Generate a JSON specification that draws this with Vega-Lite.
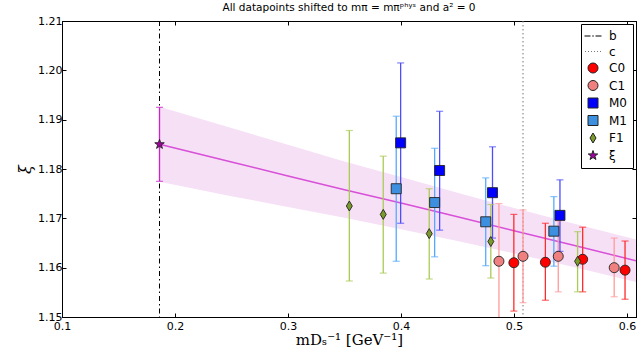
{
  "$schema": "https://vega.github.io/schema/vega-lite/v6.json",
  "width": 574,
  "height": 296,
  "autosize": {"type": "none"},
  "padding": {"left": 62, "top": 21, "right": 1, "bottom": 43},
  "title": {"text": "All datapoints shifted to mπ = mπᵖʰʸˢ and a² = 0", "font": "DejaVu Sans", "fontSize": 10.5, "fontWeight": "normal", "color": "black", "anchor": "middle", "offset": 2},
  "config": {
    "view": {"stroke": "black", "strokeWidth": 1},
    "axis": {"grid": false, "domainColor": "black", "tickColor": "black", "labelColor": "black", "labelFont": "DejaVu Sans", "labelFontSize": 11, "titleColor": "black", "titleFontWeight": "normal", "labelFlush": false},
    "legend": {"orient": "top-right", "offset": 3, "padding": 6, "fillColor": "white", "strokeColor": "black", "strokeWidth": 1, "cornerRadius": 0, "labelFont": "DejaVu Sans", "labelFontSize": 12, "labelColor": "black", "rowPadding": 3.5, "symbolStrokeWidth": 1, "labelOffset": 10}
  },
  "datasets": {
    "pts": [
      {"series": "C0", "x": 0.4999, "y": 1.1610, "lo": 1.1512, "hi": 1.1708},
      {"series": "C0", "x": 0.5278, "y": 1.1611, "lo": 1.1534, "hi": 1.1690},
      {"series": "C0", "x": 0.5608, "y": 1.1617, "lo": 1.1551, "hi": 1.1682},
      {"series": "C0", "x": 0.5983, "y": 1.1595, "lo": 1.1536, "hi": 1.1654},
      {"series": "C1", "x": 0.4867, "y": 1.1613, "lo": 1.1496, "hi": 1.1730},
      {"series": "C1", "x": 0.5080, "y": 1.1623, "lo": 1.1529, "hi": 1.1717},
      {"series": "C1", "x": 0.5392, "y": 1.1623, "lo": 1.1551, "hi": 1.1695},
      {"series": "C1", "x": 0.5887, "y": 1.1600, "lo": 1.1541, "hi": 1.1660},
      {"series": "M0", "x": 0.3997, "y": 1.1853, "lo": 1.1690, "hi": 1.2015},
      {"series": "M0", "x": 0.4342, "y": 1.1797, "lo": 1.1676, "hi": 1.1917},
      {"series": "M0", "x": 0.4810, "y": 1.1752, "lo": 1.1660, "hi": 1.1845},
      {"series": "M0", "x": 0.5407, "y": 1.1706, "lo": 1.1633, "hi": 1.1778},
      {"series": "M1", "x": 0.3958, "y": 1.1760, "lo": 1.1613, "hi": 1.1907},
      {"series": "M1", "x": 0.4298, "y": 1.1732, "lo": 1.1622, "hi": 1.1842},
      {"series": "M1", "x": 0.4750, "y": 1.1693, "lo": 1.1604, "hi": 1.1782},
      {"series": "M1", "x": 0.5353, "y": 1.1674, "lo": 1.1603, "hi": 1.1744},
      {"series": "F1", "x": 0.3543, "y": 1.1725, "lo": 1.1573, "hi": 1.1878},
      {"series": "F1", "x": 0.3843, "y": 1.1708, "lo": 1.1589, "hi": 1.1826},
      {"series": "F1", "x": 0.4250, "y": 1.1669, "lo": 1.1577, "hi": 1.1760},
      {"series": "F1", "x": 0.4795, "y": 1.1653, "lo": 1.1579, "hi": 1.1728},
      {"series": "F1", "x": 0.5563, "y": 1.1613, "lo": 1.1551, "hi": 1.1673},
      {"series": "ξ", "x": 0.1863, "y": 1.1850, "lo": 1.1775, "hi": 1.1925}
    ],
    "band": [
      {"x": 0.1863, "lo": 1.1774, "mid": 1.1850, "hi": 1.1926},
      {"x": 0.25, "lo": 1.1745, "mid": 1.1814, "hi": 1.1883},
      {"x": 0.3, "lo": 1.1723, "mid": 1.1786, "hi": 1.1849},
      {"x": 0.35, "lo": 1.1701, "mid": 1.1758, "hi": 1.1815},
      {"x": 0.4, "lo": 1.1678, "mid": 1.1731, "hi": 1.1784},
      {"x": 0.45, "lo": 1.1654, "mid": 1.1703, "hi": 1.1752},
      {"x": 0.5, "lo": 1.1629, "mid": 1.1675, "hi": 1.1721},
      {"x": 0.55, "lo": 1.1603, "mid": 1.1647, "hi": 1.1691},
      {"x": 0.608, "lo": 1.1571, "mid": 1.1614, "hi": 1.1657}
    ]
  },
  "layer": [
    {
      "data": {"name": "band"},
      "mark": {"type": "area", "fill": "#f6e0f6", "opacity": 1, "clip": true},
      "encoding": {
        "x": {"field": "x", "type": "quantitative", "scale": {"domain": [0.1, 0.608], "nice": false, "zero": false},
              "axis": {"orient": "bottom", "values": [0.1, 0.2, 0.3, 0.4, 0.5, 0.6], "format": ".1f", "tickSize": -4, "labelPadding": 7, "title": "mDₛ⁻¹ [GeV⁻¹]", "titleFont": "DejaVu Serif", "titleFontSize": 15, "titlePadding": 1}},
        "y": {"field": "lo", "type": "quantitative", "scale": {"domain": [1.15, 1.21], "nice": false, "zero": false},
              "axis": {"orient": "left", "values": [1.15, 1.16, 1.17, 1.18, 1.19, 1.2, 1.21], "format": ".2f", "tickSize": -4, "labelPadding": 4, "title": "ξ", "titleFont": "DejaVu Serif", "titleFontStyle": "italic", "titleFontSize": 16, "titlePadding": 4}},
        "y2": {"field": "hi"}
      }
    },
    {
      "data": {"name": "band"},
      "mark": {"type": "line", "color": "#d84fd8", "strokeWidth": 1.5, "clip": true},
      "encoding": {
        "x": {"field": "x", "type": "quantitative", "scale": {"domain": [0.1, 0.608], "nice": false, "zero": false},
              "axis": {"orient": "top", "values": [0.1, 0.2, 0.3, 0.4, 0.5, 0.6], "labels": false, "tickSize": -4, "title": null}},
        "y": {"field": "mid", "type": "quantitative", "scale": {"domain": [1.15, 1.21], "nice": false, "zero": false},
              "axis": {"orient": "right", "values": [1.15, 1.16, 1.17, 1.18, 1.19, 1.2, 1.21], "labels": false, "tickSize": -4, "title": null}}
      }
    },
    {
      "data": {"values": [{"x": 0.1863}]},
      "mark": {"type": "rule", "color": "black", "strokeWidth": 1, "strokeDash": [5, 3, 1.5, 3]},
      "encoding": {
        "x": {"field": "x", "type": "quantitative", "scale": {"domain": [0.1, 0.608], "nice": false, "zero": false}, "axis": null}
      }
    },
    {
      "data": {"values": [{"x": 0.508}]},
      "mark": {"type": "rule", "color": "#777777", "strokeWidth": 1, "strokeDash": [1.5, 2.5]},
      "encoding": {
        "x": {"field": "x", "type": "quantitative", "scale": {"domain": [0.1, 0.608], "nice": false, "zero": false}, "axis": null}
      }
    },
    {
      "data": {"name": "pts"},
      "mark": {"type": "rule", "strokeWidth": 1.3, "clip": true},
      "encoding": {
        "x": {"field": "x", "type": "quantitative", "scale": {"domain": [0.1, 0.608], "nice": false, "zero": false}, "axis": null},
        "y": {"field": "lo", "type": "quantitative", "scale": {"domain": [1.15, 1.21], "nice": false, "zero": false}, "axis": null},
        "y2": {"field": "hi"},
        "color": {"field": "series", "type": "nominal", "scale": {"domain": ["C0", "C1", "M0", "M1", "F1", "ξ"], "range": ["#ff2a2a", "#ff9a9a", "#4d4dff", "#55aaff", "#aacb55", "#cc22cc"]}, "legend": null}
      }
    },
    {
      "data": {"name": "pts"},
      "mark": {"type": "tick", "orient": "horizontal", "size": 7, "thickness": 1.2, "clip": true},
      "encoding": {
        "x": {"field": "x", "type": "quantitative", "scale": {"domain": [0.1, 0.608], "nice": false, "zero": false}, "axis": null},
        "y": {"field": "hi", "type": "quantitative", "scale": {"domain": [1.15, 1.21], "nice": false, "zero": false}, "axis": null},
        "color": {"field": "series", "type": "nominal", "scale": {"domain": ["C0", "C1", "M0", "M1", "F1", "ξ"], "range": ["#ff2a2a", "#ff9a9a", "#4d4dff", "#55aaff", "#aacb55", "#cc22cc"]}, "legend": null}
      }
    },
    {
      "data": {"name": "pts"},
      "mark": {"type": "tick", "orient": "horizontal", "size": 7, "thickness": 1.2, "clip": true},
      "encoding": {
        "x": {"field": "x", "type": "quantitative", "scale": {"domain": [0.1, 0.608], "nice": false, "zero": false}, "axis": null},
        "y": {"field": "lo", "type": "quantitative", "scale": {"domain": [1.15, 1.21], "nice": false, "zero": false}, "axis": null},
        "color": {"field": "series", "type": "nominal", "scale": {"domain": ["C0", "C1", "M0", "M1", "F1", "ξ"], "range": ["#ff2a2a", "#ff9a9a", "#4d4dff", "#55aaff", "#aacb55", "#cc22cc"]}, "legend": null}
      }
    },
    {
      "data": {"name": "pts"},
      "mark": {"type": "point", "filled": true, "opacity": 1, "strokeWidth": 0.9, "clip": true},
      "encoding": {
        "x": {"field": "x", "type": "quantitative", "scale": {"domain": [0.1, 0.608], "nice": false, "zero": false}, "axis": null},
        "y": {"field": "y", "type": "quantitative", "scale": {"domain": [1.15, 1.21], "nice": false, "zero": false}, "axis": null},
        "fill": {"field": "series", "type": "nominal", "scale": {"domain": ["b", "c", "C0", "C1", "M0", "M1", "F1", "ξ"], "range": ["transparent", "transparent", "#ff0000", "#f08080", "#0000ff", "#3d8fe0", "#7a9a2a", "#a000a0"]}, "legend": {"title": null}},
        "stroke": {"field": "series", "type": "nominal", "scale": {"domain": ["b", "c", "C0", "C1", "M0", "M1", "F1", "ξ"], "range": ["#000000", "#777777", "#222222", "#222222", "#222222", "#222222", "#222222", "#222222"]}, "legend": {"title": null}},
        "shape": {"field": "series", "type": "nominal", "scale": {"domain": ["b", "c", "C0", "C1", "M0", "M1", "F1", "ξ"], "range": ["M-1.7,0H-0.5M-0.15,0H0.15M0.5,0H1.7", "M-1.6,0H-1.4M-1,0H-0.8M-0.4,0H-0.2M0.2,0H0.4M0.8,0H1M1.4,0H1.6", "circle", "circle", "square", "square", "M0,-1L0.6,0L0,1L-0.6,0Z", "M0,-1L0.235,-0.324L0.951,-0.309L0.38,0.124L0.588,0.809L0,0.4L-0.588,0.809L-0.38,0.124L-0.951,-0.309L-0.235,-0.324Z"]}, "legend": {"title": null}},
        "size": {"field": "series", "type": "nominal", "scale": {"domain": ["b", "c", "C0", "C1", "M0", "M1", "F1", "ξ"], "range": [100, 100, 55, 55, 50, 50, 110, 85]}, "legend": {"title": null}}
      }
    }
  ],
  "resolve": {"axis": {"x": "independent", "y": "independent"}}
}
